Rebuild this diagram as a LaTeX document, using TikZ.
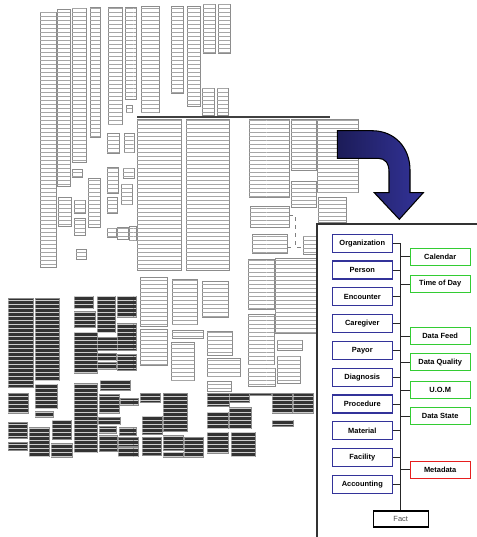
\documentclass[tikz,border=0pt]{standalone}
\usepackage{fontspec}
\setmainfont{Liberation Sans}
\usetikzlibrary{patterns}

\definecolor{dimblue}{RGB}{51,51,153}
\definecolor{navy}{RGB}{28,28,88}
\definecolor{ctlgreen}{RGB}{51,204,51}
\definecolor{metared}{RGB}{230,30,30}

\tikzset{
  lightbox/.style={fill=white, draw=black!45, line width=0.6pt,
    postaction={pattern=horizontal lines, pattern color=black!35}},
  darkbox/.style={fill=black!80, draw=black!45, line width=0.6pt,
    postaction={pattern=horizontal lines, pattern color=white!80!black}},
  dimbox/.style={draw=dimblue, line width=1pt, fill=white, minimum width=45pt,
    minimum height=13.5pt, inner sep=0pt, font=\fontsize{5.6}{6.5}\selectfont\bfseries},
  ctlbox/.style={draw=ctlgreen, line width=1pt, fill=white, minimum width=45pt,
    minimum height=12.75pt, inner sep=0pt, font=\fontsize{5.6}{6.5}\selectfont\bfseries},
  metabox/.style={ctlbox, draw=metared},
  factbox/.style={draw=black, line width=0.8pt, fill=white, minimum width=41pt,
    minimum height=12pt, inner sep=0pt, text=black!70, font=\fontsize{5.6}{6.5}\selectfont},
  link/.style={draw=black!85, line width=0.7pt}
}

\begin{document}
\begin{tikzpicture}[x=0.75pt,y=0.75pt,yscale=-1]
\useasboundingbox (0,0) rectangle (477,537);

%Shape: schema tables, upper screenshot
\foreach \a/\b/\c/\d in {40/12/56/267, 57/9/70/186, 72/8/86/162, 90/7/100/137,
  108/7/122/124, 125/7/136/99, 126/105/132/112, 107/133/119/153, 124/133/134/152,
  72/169/82/177, 58/197/71/226, 74/200/85/213, 74/218/85/235, 88/178/100/227,
  107/167/118/193, 123/168/134/178, 121/184/132/204, 107/197/117/213,
  107/228/116/237, 117/227/128/239, 129/226/136/240, 76/249/86/259,
  141/6/159/112, 171/6/183/93, 187/6/200/106, 203/4/215/53, 218/4/230/53,
  202/88/214/115, 217/88/228/115}
  \draw[lightbox] (\a,\b) rectangle (\c,\d);

%Shape: middle screenshot
\draw[black!75, line width=1pt] (137,117) -- (330,117);
\foreach \a/\b/\c/\d in {137/119/181/270, 186/119/229/270, 249/119/289/197,
  291/119/316/170, 317/119/358/192, 291/181/316/207, 318/197/346/222,
  250/206/289/227, 252/234/287/253, 303/236/317/254, 248/259/274/309,
  275/258/316/333, 140/277/167/326, 172/279/197/324, 202/281/228/317,
  140/329/167/365, 172/330/203/338, 171/342/194/380, 207/331/232/355,
  207/358/240/376, 207/381/231/391, 248/314/274/364, 277/340/302/350,
  277/356/300/383, 248/368/275/386}
  \draw[lightbox] (\a,\b) rectangle (\c,\d);
\draw[black!50, dashed, line width=0.6pt] (289,215) -- (295,215) -- (295,247) -- (303,247);
\draw[black!50, dashed, line width=0.6pt] (287,247) -- (295,247);

%Shape: lower screenshot, inverted tables
\foreach \a/\b/\c/\d in {8/298/33/387, 35/298/59/380, 74/296/93/308, 74/311/95/327,
  74/332/97/373, 97/296/115/332, 97/337/117/350, 97/353/116/360, 97/362/116/369,
  117/296/136/317, 117/323/136/350, 117/354/136/370, 8/393/28/413, 35/384/57/408,
  35/411/53/417, 8/422/27/438, 29/427/49/456, 52/420/71/439, 8/442/27/450,
  51/443/72/457, 74/383/97/452, 100/380/130/390, 99/394/119/413, 120/398/138/405,
  98/417/120/424, 99/426/116/433, 119/427/136/435, 99/435/117/451,
  118/437/138/446, 118/447/138/456, 140/393/160/402, 163/393/187/431,
  142/416/162/434, 142/437/161/455, 163/435/183/450, 163/452/183/457,
  184/437/203/457, 207/393/229/406, 207/412/228/428, 207/432/228/453,
  229/393/249/402, 229/407/251/428, 231/432/255/456, 249/393/271/395,
  272/393/292/413, 293/393/313/413, 272/420/293/426}
  \draw[darkbox] (\a,\b) rectangle (\c,\d);

%Shape: curved arrow
\draw[black, line width=0.8pt, left color=navy, right color=dimblue]
  (337.3,130.7) -- (372,130.7) .. controls (395,130.7) and (410,148) .. (410,170)
  -- (410,192.7) -- (423.3,192.7) -- (399.3,219.3) -- (374.3,192.7) -- (389,192.7)
  -- (389,172) .. controls (389,163) and (385,158.3) .. (378,158.3)
  -- (337.3,158.3) -- cycle;

%Shape: panel frame
\fill[white] (317,224) rectangle (477,537);
\draw[black!80, line width=1.1pt] (317,537) -- (317,224) -- (477,224);

% Dimension nodes
\foreach \n/\t [count=\i] in {org/Organization, person/Person, encounter/Encounter,
  caregiver/Caregiver, payor/Payor, diagnosis/Diagnosis, procedure/Procedure,
  material/Material, facility/Facility, accounting/Accounting}
  \node[dimbox] (\n) at (362.3,{243.2+26.8*(\i-1)}) {\t};

% Control nodes
\node[ctlbox] (calendar) at (440.2,256.7) {Calendar};
\node[ctlbox] (timeofday) at (440.2,284) {Time of Day};
\node[ctlbox] (datafeed) at (440.2,336) {Data Feed};
\node[ctlbox] (dataquality) at (440.2,362.3) {Data Quality};
\node[ctlbox] (uom) at (440.2,390) {U.O.M};
\node[ctlbox] (datastate) at (440.2,416.3) {Data State};
\node[metabox] (metadata) at (440.2,469.7) {Metadata};

\node[factbox] (fact) at (400.7,519) {Fact};
\coordinate (spinetop) at (400.7,243.2);

% Connectors
\draw[link, line width=1pt] (spinetop) -- (fact.north);
\foreach \n in {org, person, encounter, caregiver, payor, diagnosis, procedure,
  material, facility, accounting}
  \draw[link] (\n.east) -- (\n.east -| spinetop);
\foreach \n in {calendar, timeofday, datafeed, dataquality, uom, datastate, metadata}
  \draw[link] (\n.west) -- (\n.west -| spinetop);

\end{tikzpicture}
\end{document}
